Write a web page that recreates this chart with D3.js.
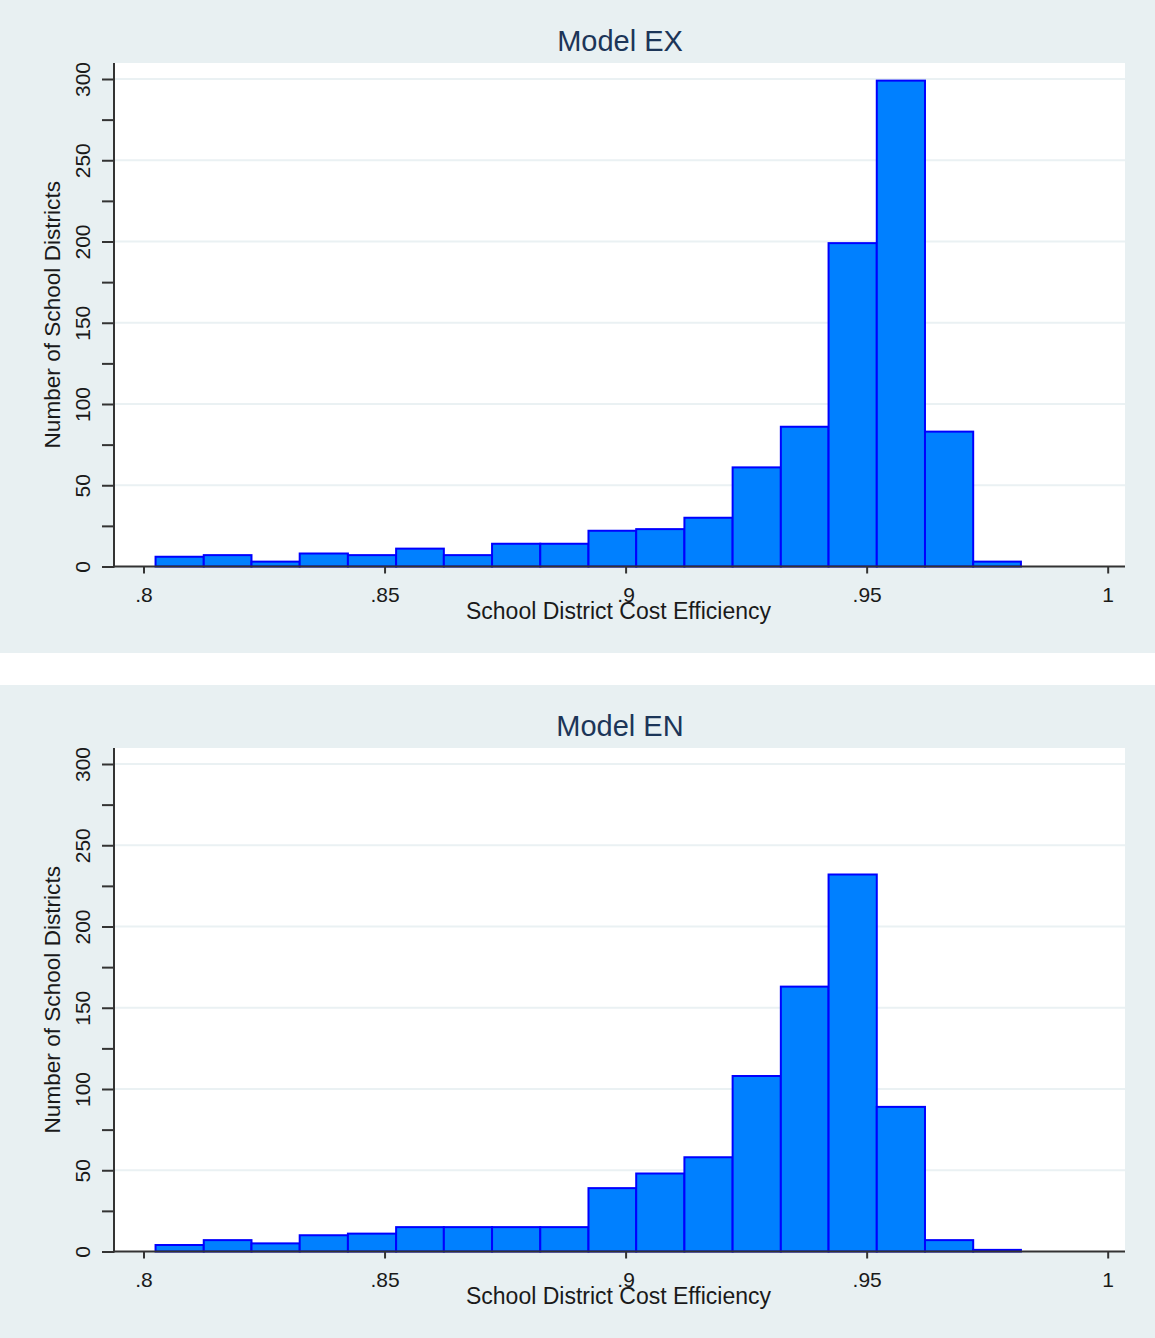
<!DOCTYPE html>
<html>
<head>
<meta charset="utf-8">
<script src="https://cdn.jsdelivr.net/npm/d3@7"></script>
<style>
  html, body { margin: 0; padding: 0; background: #ffffff; }
  svg { display: block; }
  text { font-family: "Liberation Sans", Arial, sans-serif; }
</style>
</head>
<body>
<script>
  // Data
  const binEdges = [0.8025, 0.8125, 0.8224, 0.8324, 0.8424, 0.8524, 0.8623, 0.8723, 0.8823, 0.8923,
                    0.9022, 0.9122, 0.9222, 0.9322, 0.9421, 0.9521, 0.9621, 0.9721, 0.9820];
  const countsEX = [6, 7, 3, 8, 7, 11, 7, 14, 14, 22, 23, 30, 61, 86, 199, 299, 83, 3];
  const countsEN = [4, 7, 5, 10, 11, 15, 15, 15, 15, 39, 48, 58, 108, 163, 232, 89, 7, 1];
  const panelTitles = ["Model EX", "Model EN"];
  const xTicks = [0.8, 0.85, 0.9, 0.95, 1];
  const yTicks = [0, 50, 100, 150, 200, 250, 300];
  const yMinorTicks = [25, 75, 125, 175, 225, 275];
  const xTitle = "School District Cost Efficiency";
  const yTitle = "Number of School Districts";

  // Configuration
  const width = 1155, height = 1338;
  const panelHeight = 653, panelGap = 32;
  const plot = { left: 114, right: 1125, top: 63, bottom: 566.5 };
  const bgColor = "#e8f0f2";
  const gridColor = "#eaf1f3";
  const axisColor = "#333333";

  const x = d3.scaleLinear().domain([0.8, 1.0]).range([143.5, 1107.7]);
  const y = d3.scaleLinear().domain([0, 300]).range([plot.bottom, 79]);

  const svg = d3.select("body")
    .append("svg")
    .attr("width", width)
    .attr("height", height);

  svg.append("rect")
    .attr("width", width)
    .attr("height", height)
    .attr("fill", "#ffffff");

  function drawPanel(g, title, counts) {
    const bins = counts.map((c, i) => ({ x0: binEdges[i], x1: binEdges[i + 1], count: c }));

    // fond
    g.append("rect")
      .attr("width", width)
      .attr("height", panelHeight)
      .attr("fill", bgColor);

    g.append("rect")
      .attr("x", plot.left)
      .attr("y", plot.top)
      .attr("width", plot.right - plot.left)
      .attr("height", plot.bottom - plot.top)
      .attr("fill", "#ffffff");

    // grille
    g.append("g")
      .selectAll("line")
      .data(yTicks.filter(d => d > 0))
      .join("line")
      .attr("x1", plot.left)
      .attr("x2", plot.right)
      .attr("y1", d => y(d))
      .attr("y2", d => y(d))
      .attr("stroke", gridColor)
      .attr("stroke-width", 2);

    // barres
    g.append("g")
      .selectAll("rect")
      .data(bins)
      .join("rect")
      .attr("x", d => x(d.x0))
      .attr("y", d => y(d.count))
      .attr("width", d => x(d.x1) - x(d.x0))
      .attr("height", d => y(0) - y(d.count))
      .attr("fill", "#0080ff")
      .attr("stroke", "#0000ff")
      .attr("stroke-width", 2);

    // axe Y
    const yAxis = g.append("g")
      .attr("transform", "translate(" + plot.left + ",0)")
      .call(d3.axisLeft(y).tickValues(yTicks).tickSize(12).tickFormat(d3.format("d")));
    yAxis.select(".domain").remove();
    yAxis.selectAll(".tick line").attr("stroke", axisColor).attr("stroke-width", 2);
    yAxis.selectAll(".tick text")
      .attr("x", 0)
      .attr("y", -24)
      .attr("dy", null)
      .attr("transform", "rotate(-90)")
      .attr("text-anchor", "middle")
      .attr("fill", "#1a1a1a")
      .style("font-size", "21px");

    const yMinor = g.append("g")
      .attr("transform", "translate(" + plot.left + ",0)")
      .call(d3.axisLeft(y).tickValues(yMinorTicks).tickSize(12).tickFormat(""));
    yMinor.select(".domain").remove();
    yMinor.selectAll(".tick line").attr("stroke", axisColor).attr("stroke-width", 2);

    // axe X
    const xAxis = g.append("g")
      .attr("transform", "translate(0," + plot.bottom + ")")
      .call(d3.axisBottom(x).tickValues(xTicks).tickSize(7)
        .tickFormat(d => d === 1 ? "1" : String(d).replace(/^0/, "")));
    xAxis.select(".domain").remove();
    xAxis.selectAll(".tick line").attr("stroke", axisColor).attr("stroke-width", 2);
    xAxis.selectAll(".tick text")
      .attr("y", 35.5)
      .attr("dy", null)
      .attr("fill", "#1a1a1a")
      .style("font-size", "21px");

    // lignes d'axes
    g.append("line")
      .attr("x1", plot.left).attr("x2", plot.left)
      .attr("y1", plot.top).attr("y2", plot.bottom + 1)
      .attr("stroke", axisColor).attr("stroke-width", 2);
    g.append("line")
      .attr("x1", plot.left - 1).attr("x2", plot.right)
      .attr("y1", plot.bottom).attr("y2", plot.bottom)
      .attr("stroke", axisColor).attr("stroke-width", 2);

    // titres
    g.append("text")
      .attr("x", 620)
      .attr("y", 50.5)
      .attr("text-anchor", "middle")
      .attr("fill", "#1c3558")
      .style("font-size", "29px")
      .text(title);

    g.append("text")
      .attr("x", 618.5)
      .attr("y", 618.5)
      .attr("text-anchor", "middle")
      .attr("fill", "#1a1a1a")
      .style("font-size", "23px")
      .text(xTitle);

    g.append("text")
      .attr("transform", "translate(60," + (plot.top + plot.bottom) / 2 + ") rotate(-90)")
      .attr("text-anchor", "middle")
      .attr("fill", "#1a1a1a")
      .style("font-size", "22.6px")
      .text(yTitle);
  }

  [countsEX, countsEN].forEach((counts, i) => {
    const g = svg.append("g")
      .attr("transform", "translate(0," + i * (panelHeight + panelGap) + ")");
    drawPanel(g, panelTitles[i], counts);
  });
</script>
</body>
</html>
